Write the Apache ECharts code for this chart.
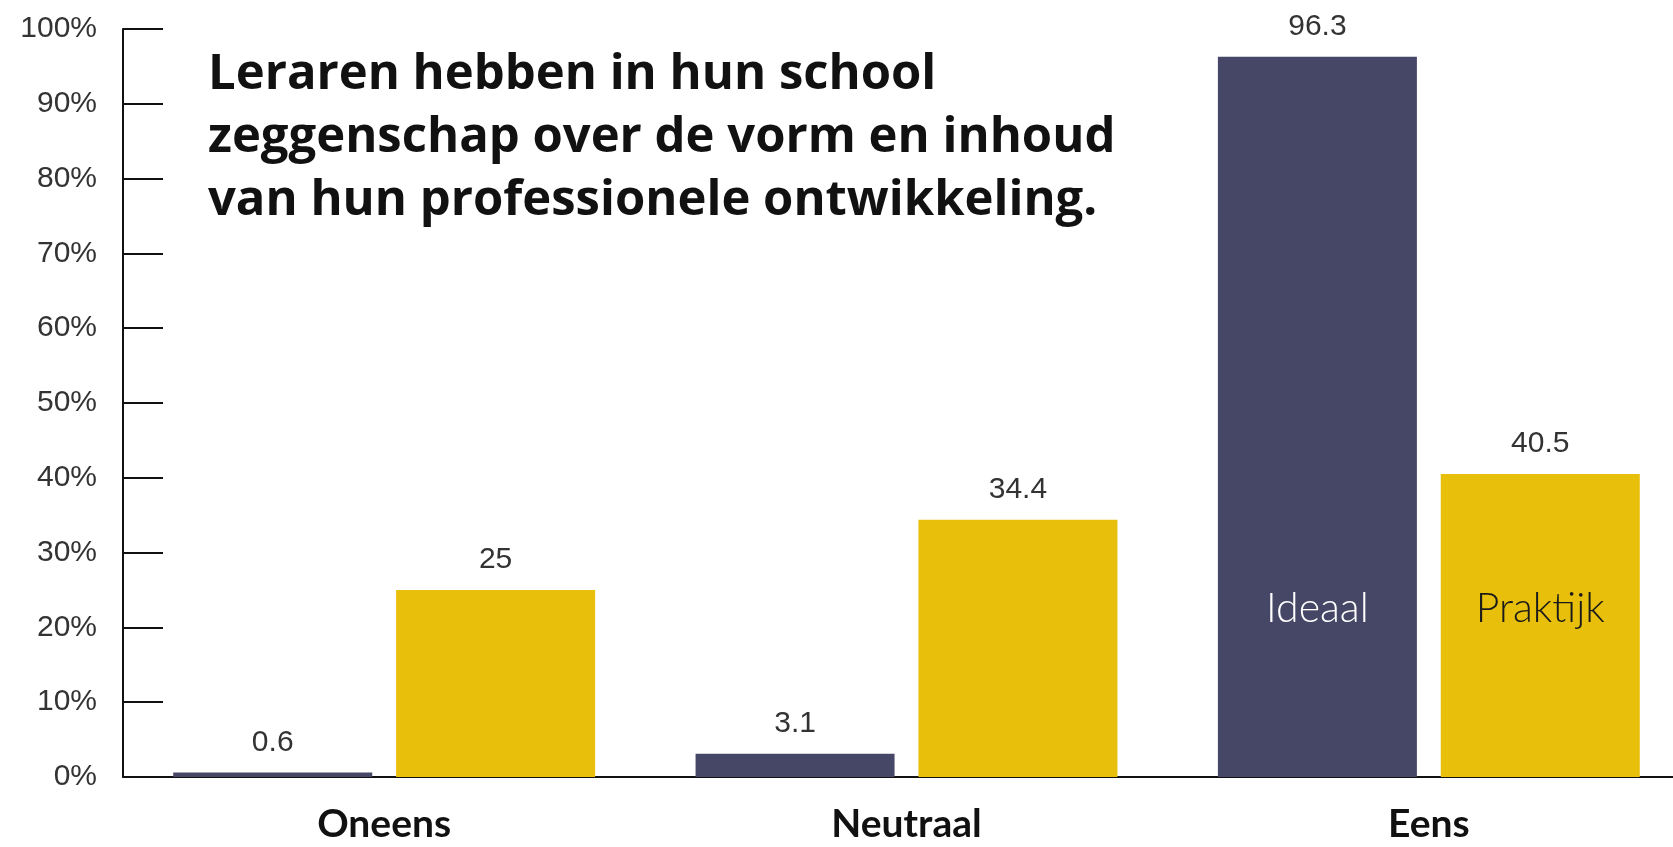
<!DOCTYPE html>
<html lang="nl">
<head>
    <meta charset="UTF-8">
    <title>Zeggenschap professionele ontwikkeling</title>
    <script src="https://cdn.jsdelivr.net/npm/echarts@6.0.0/dist/echarts.min.js"></script>
</head>
<body style="margin:0;background:#fff;">
    <div id="main" style="width: 1673px; height: 847px;"></div>
    <script>
        const categories = ['Oneens', 'Neutraal', 'Eens'];
        const ideaal = [0.6, 3.1, 96.3];
        const praktijk = [25, 34.4, 40.5];
        const seriesNames = ['Ideaal', 'Praktijk'];
        const titleLines = [
            'Leraren hebben in hun school',
            'zeggenschap over de vorm en inhoud',
            'van hun professionele ontwikkeling.'
        ];

        const myChart = echarts.init(document.getElementById('main'));

        const valueLabel = {
            show: true,
            position: 'top',
            distance: 15,
            color: '#333',
            fontSize: 30,
            fontFamily: 'Liberation Sans'
        };

        // name of the series written inside the "Eens" bars
        function nameMark(name, color) {
            return {
                symbol: 'rect',
                symbolSize: 0,
                silent: true,
                label: {
                    show: true,
                    position: 'inside',
                    formatter: name,
                    color: color,
                    fontSize: 41,
                    fontFamily: 'Lato',
                    fontWeight: 300
                },
                data: [{ coord: ['Eens', 22.5] }]
            };
        }

        const options = {
            backgroundColor: '#fff',
            animation: false,
            title: {
                text: titleLines.join('\n'),
                left: 203,
                top: 39,
                textStyle: {
                    fontFamily: 'Open Sans',
                    fontWeight: 'bold',
                    fontSize: 49,
                    lineHeight: 63,
                    color: '#111'
                }
            },
            grid: {
                left: 123,
                top: 29,
                bottom: 70,
                width: 1567,
                containLabel: false,
                outerBoundsMode: 'none'
            },
            xAxis: {
                type: 'category',
                data: categories,
                axisLine: { lineStyle: { color: '#111', width: 2 } },
                axisTick: { show: false },
                axisLabel: {
                    margin: 28,
                    color: '#111',
                    fontFamily: 'Lato',
                    fontWeight: 'bold',
                    fontSize: 39
                }
            },
            yAxis: {
                type: 'value',
                min: 0,
                max: 100,
                interval: 10,
                axisLine: { show: true, lineStyle: { color: '#111', width: 2 } },
                axisTick: {
                    show: true,
                    inside: true,
                    length: 40,
                    lineStyle: { color: '#111', width: 2 }
                },
                splitLine: { show: false },
                axisLabel: {
                    formatter: '{value}%',
                    margin: 26,
                    color: '#333',
                    fontSize: 30,
                    fontFamily: 'Liberation Sans'
                }
            },
            series: [
                {
                    name: seriesNames[0],
                    type: 'bar',
                    data: ideaal,
                    barWidth: 199,
                    barGap: '12%',
                    itemStyle: { color: '#464766' },
                    label: valueLabel,
                    markPoint: nameMark(seriesNames[0], '#fff')
                },
                {
                    name: seriesNames[1],
                    type: 'bar',
                    data: praktijk,
                    barWidth: 199,
                    barGap: '12%',
                    itemStyle: { color: '#E8BF0B' },
                    label: valueLabel,
                    markPoint: nameMark(seriesNames[1], '#1a1a1a')
                }
            ]
        };

        myChart.setOption(options);
    </script>
</body>
</html>
